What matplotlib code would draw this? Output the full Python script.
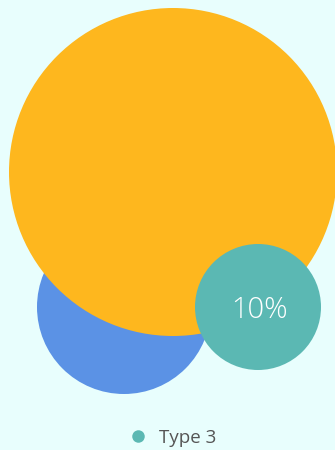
import matplotlib
matplotlib.use('Agg')
import matplotlib.pyplot as plt
from matplotlib.patches import Circle
from matplotlib.lines import Line2D

# bubble data (centre x, centre y, radius in chart units)
names = ["Type 1", "Type 2", "Type 3"]
centre_x = [124, 173, 258]
centre_y = [307, 172, 307]
radii = [87, 164, 63]
labels = ["", "", "10%"]
colors = ["#5b92e5", "#feb71e", "#5bb8b3"]
draw_order = [0, 1, 2]

BG = "#e8fefd"

fig = plt.figure(figsize=(3.35, 4.5), dpi=100, facecolor=BG)
ax = fig.add_axes([0, 0, 1, 1])
ax.set_facecolor(BG)
ax.set_xlim(0, 335)
ax.set_ylim(450, 0)
ax.set_aspect('equal')
ax.axis('off')

for i in draw_order:
    ax.add_patch(Circle((centre_x[i], centre_y[i]), radii[i],
                        facecolor=colors[i], edgecolor='none'))
    if labels[i]:
        ax.text(centre_x[i] + 2, centre_y[i] + 3, labels[i], ha='center', va='center',
                color='white', fontsize=21, family='Open Sans', fontweight='light')

handle = Line2D([], [], marker='o', linestyle='none', markersize=9,
                markerfacecolor=colors[2], markeredgecolor='none')
ax.legend([handle], [names[2]], loc='center', bbox_to_anchor=(0.5, 1 - 438 / 450),
          frameon=False, handletextpad=0.1, prop={'family': 'Open Sans', 'size': 13.5},
          labelcolor='#555555')

fig.savefig('out.png', dpi=100, facecolor=BG)
